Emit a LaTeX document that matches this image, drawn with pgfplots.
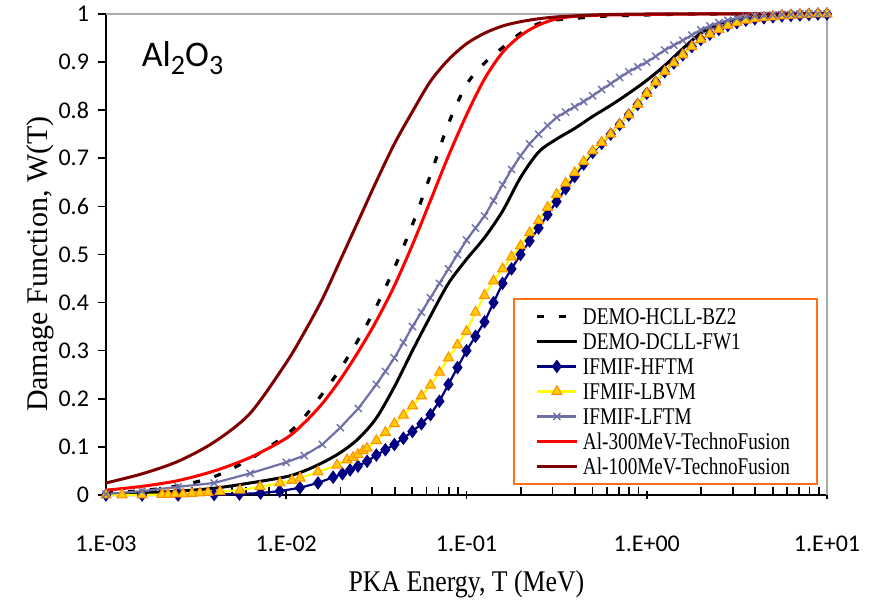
\documentclass[border=0pt]{standalone}
\usepackage{fontspec}
\setmainfont{Liberation Serif}
\newfontfamily\serifc{Liberation Serif}[FakeStretch=0.86]
\newfontfamily\serifl{Liberation Serif}[FakeStretch=0.8]
\newfontfamily\calib{Carlito}
\usepackage{pgfplots}
\pgfplotsset{compat=1.18}
\definecolor{navyc}{RGB}{0,0,128}
\definecolor{yell}{RGB}{255,255,0}
\definecolor{tri}{RGB}{255,204,0}
\definecolor{triedge}{RGB}{255,140,0}
\definecolor{lftm}{RGB}{112,112,168}
\definecolor{dred}{RGB}{128,0,0}
\definecolor{legor}{RGB}{255,112,25}
\definecolor{bord}{RGB}{170,170,170}

\begin{document}
\begin{tikzpicture}
\path[use as bounding box] (-53pt,-54pt) rectangle (382.5pt,247.5pt);
\begin{axis}[
  scale only axis, width=360.5pt, height=240.5pt,
  xmode=log, xmin=1e-3, xmax=10, ymin=0, ymax=1,
  axis x line*=bottom, axis y line*=left,
  axis line style={black, line width=1pt},
  xtick={1e-3,1e-2,1e-1,1,10},
  xticklabels={1.E-03,1.E-02,1.E-01,1.E+00,1.E+01},
  minor xtick={2e-3,3e-3,4e-3,5e-3,6e-3,7e-3,8e-3,9e-3,0.02,0.03,0.04,0.05,0.06,0.07,0.08,0.09,0.2,0.3,0.4,0.5,0.6,0.7,0.8,0.9,2,3,4,5,6,7,8,9},
  ytick={0,0.1,0.2,0.3,0.4,0.5,0.6,0.7,0.8,0.9,1},
  yticklabels={0,0.1,0.2,0.3,0.4,0.5,0.6,0.7,0.8,0.9,1},
  tick style={black, line width=0.8pt},
  xtick align=outside, ytick align=outside,
  major tick length=4pt, minor tick length=4pt,
  minor x tick style={yshift=4pt},
  major x tick style={yshift=2pt},
  ticklabel style={font=\calib\fontsize{12}{14}\selectfont},
  xticklabel style={yshift=-13pt},
  yticklabel style={xshift=-1pt},
  xlabel={PKA Energy, T (MeV)},
  ylabel={Damage Function, W(T)},
  xlabel style={font=\serifc\fontsize{15}{17}\selectfont, at={(axis description cs:0.5,-0.185)}, anchor=center},
  ylabel style={font=\fontsize{15}{17}\selectfont, at={(axis description cs:-0.0915,0.48)}, anchor=center},
  clip=false,
  legend style={at={(rel axis cs:0.9875,0.0208)}, anchor=south east, draw=legor, line width=1pt,
    font=\serifl\fontsize{12}{13}\selectfont, inner xsep=11pt, inner ysep=2.5pt,
    nodes={inner xsep=2.5pt, inner ysep=2pt, text height=8.5pt, text depth=0pt}, row sep=0pt},
  legend cell align=left,
  legend image code/.code={\draw[mark repeat=2,mark phase=2] plot coordinates {(0pt,0pt) (9.75pt,0pt) (19.5pt,0pt)};},
]
\draw[bord, line width=0.75pt] (rel axis cs:0,1) -- (rel axis cs:1,1) -- (rel axis cs:1,0);

% DEMO-HCLL-BZ2
\addplot[black, line width=1.6pt, dash pattern=on 3.5pt off 7.5pt, smooth] table {
0.001 0.004
0.001585 0.009
0.002512 0.019
0.003981 0.038
0.006310 0.075
0.01 0.125
0.01259 0.162
0.01585 0.21
0.01995 0.262
0.02512 0.323
0.03162 0.392
0.03981 0.472
0.05012 0.562
0.06310 0.665
0.07943 0.772
0.1 0.853
0.1259 0.898
0.1585 0.93
0.1995 0.96
0.2512 0.98
0.3162 0.988
0.3981 0.991
0.5012 0.994
0.6310 0.996
1 0.998
1.995 1.0
10 1.0
};
\addlegendentry{DEMO-HCLL-BZ2}

% DEMO-DCLL-FW1
\addplot[black, line width=1.5pt, smooth] table {
0.001 0.002
0.001585 0.004
0.002512 0.008
0.003981 0.014
0.006310 0.025
0.01 0.038
0.01259 0.05
0.01585 0.067
0.01995 0.088
0.02512 0.117
0.03162 0.16
0.03981 0.225
0.05012 0.30
0.06310 0.372
0.07943 0.44
0.1 0.49
0.1259 0.535
0.1585 0.59
0.1995 0.66
0.2512 0.713
0.3162 0.74
0.3981 0.762
0.5012 0.787
0.6310 0.81
0.7943 0.835
1 0.862
1.259 0.893
1.585 0.928
1.995 0.96
2.512 0.979
3.162 0.99
3.981 0.995
5.012 0.998
10 1.0
};
\addlegendentry{DEMO-DCLL-FW1}

% IFMIF-HFTM
\addplot[navyc, line width=1.1pt, mark=diamond*, mark size=2.5pt, mark options={fill=navyc, draw=navyc}] table {
0.001 0.0
0.001585 0.0
0.002512 0.0
0.003981 0.001
0.0055 0.002
0.0072 0.004
0.0092 0.008
0.0119 0.015
0.0150 0.025
0.0182 0.037
0.0205 0.044
0.0226 0.052
0.0250 0.060
0.0281 0.070
0.03162 0.083
0.03548 0.094
0.03981 0.105
0.04467 0.118
0.05012 0.132
0.05623 0.148
0.0631 0.167
0.07079 0.195
0.07943 0.23
0.08913 0.265
0.1 0.30
0.1122 0.33
0.1259 0.36
0.1413 0.40
0.1585 0.44
0.1778 0.47
0.1995 0.50
0.2239 0.528
0.2512 0.555
0.2818 0.583
0.3162 0.61
0.3548 0.637
0.3981 0.662
0.4467 0.688
0.5012 0.712
0.5623 0.731
0.631 0.75
0.7079 0.77
0.7943 0.79
0.8913 0.812
1 0.835
1.122 0.858
1.259 0.88
1.413 0.898
1.585 0.915
1.778 0.932
1.995 0.947
2.239 0.958
2.512 0.968
2.818 0.976
3.162 0.982
3.548 0.987
3.981 0.99
4.467 0.992
5.012 0.994
5.623 0.996
6.31 0.997
7.079 0.998
7.943 0.999
8.913 1.0
10 1.0
};
\addlegendentry{IFMIF-HFTM}

% IFMIF-LBVM
\addplot[yell, line width=1.1pt, mark=triangle*, mark size=2.9pt, mark options={fill=tri, draw=triedge, line width=0.5pt}] table {
0.001 0.0
0.001227 0.0
0.001585 0.0
0.002046 0.001
0.002208 0.001
0.002414 0.002
0.002675 0.002
0.0030 0.003
0.00332 0.004
0.00368 0.005
0.00429 0.007
0.00554 0.010
0.00715 0.017
0.00923 0.025
0.01076 0.030
0.01192 0.035
0.0150 0.048
0.01912 0.062
0.02173 0.073
0.02346 0.078
0.0250 0.084
0.02667 0.092
0.02805 0.097
0.03162 0.113
0.03548 0.13
0.03981 0.148
0.04467 0.166
0.05012 0.185
0.05623 0.206
0.0631 0.228
0.07079 0.255
0.07943 0.285
0.08913 0.312
0.1 0.34
0.1122 0.38
0.1259 0.415
0.1413 0.445
0.1585 0.47
0.1778 0.495
0.1995 0.518
0.2239 0.545
0.2512 0.57
0.2818 0.598
0.3162 0.625
0.3548 0.648
0.3981 0.67
0.4467 0.693
0.5012 0.715
0.5623 0.733
0.631 0.75
0.7079 0.77
0.7943 0.79
0.8913 0.812
1 0.835
1.122 0.858
1.259 0.88
1.413 0.898
1.585 0.915
1.778 0.932
1.995 0.947
2.239 0.958
2.512 0.968
2.818 0.976
3.162 0.982
3.548 0.987
3.981 0.99
4.467 0.992
5.012 0.994
5.623 0.996
6.31 0.997
7.079 0.998
7.943 0.999
8.913 1.0
10 1.0
};
\addlegendentry{IFMIF-LBVM}

% IFMIF-LFTM
\addplot[lftm, line width=1.1pt, mark=x, mark size=2.5pt, mark options={line width=0.7pt}] table {
0.001 0.002
0.001585 0.008
0.002512 0.017
0.003981 0.025
0.006310 0.045
0.01 0.068
0.01259 0.082
0.01585 0.105
0.01995 0.14
0.02512 0.18
0.03162 0.23
0.03548 0.257
0.03981 0.285
0.04467 0.317
0.05012 0.35
0.05623 0.38
0.0631 0.41
0.07079 0.44
0.07943 0.47
0.08913 0.50
0.1 0.53
0.1122 0.555
0.1259 0.58
0.1413 0.612
0.1585 0.645
0.1778 0.677
0.1995 0.705
0.2239 0.73
0.2512 0.75
0.2818 0.768
0.3162 0.785
0.3548 0.796
0.3981 0.807
0.4467 0.818
0.5012 0.83
0.5623 0.843
0.631 0.855
0.7079 0.868
0.7943 0.88
0.8913 0.89
1 0.90
1.122 0.912
1.259 0.925
1.413 0.935
1.585 0.945
1.778 0.956
1.995 0.967
2.239 0.975
2.512 0.982
2.818 0.987
3.162 0.991
3.548 0.994
3.981 0.996
4.467 0.997
5.012 0.998
5.623 0.999
6.31 0.999
7.079 1.0
7.943 1.0
8.913 1.0
10 1.0
};
\addlegendentry{IFMIF-LFTM}

% Al-300MeV
\addplot[red, line width=1.5pt, smooth] table {
0.001 0.01
0.001585 0.018
0.002512 0.03
0.003981 0.05
0.006310 0.078
0.01 0.118
0.01259 0.15
0.01585 0.19
0.01995 0.24
0.02512 0.298
0.03162 0.362
0.03981 0.435
0.05012 0.52
0.06310 0.612
0.07943 0.705
0.1 0.79
0.1259 0.865
0.1585 0.92
0.1995 0.955
0.2512 0.977
0.3162 0.99
0.3981 0.995
0.5012 0.997
0.6310 0.998
1 0.999
1.995 1.0
10 1.0
};
\addlegendentry{Al-300MeV-TechnoFusion}

% Al-100MeV
\addplot[dred, line width=1.5pt, smooth] table {
0.001 0.025
0.001585 0.044
0.002512 0.07
0.003981 0.11
0.006310 0.17
0.01 0.275
0.01259 0.338
0.01585 0.407
0.01995 0.488
0.02512 0.57
0.03162 0.652
0.03981 0.73
0.05012 0.797
0.06310 0.86
0.07943 0.905
0.1 0.938
0.1259 0.96
0.1585 0.975
0.1995 0.984
0.2512 0.99
0.3162 0.994
0.3981 0.996
0.5012 0.998
0.6310 0.999
1 1.0
1.995 1.0
10 1.0
};
\addlegendentry{Al-100MeV-TechnoFusion}

\node[font=\calib\fontsize{18}{20}\selectfont, anchor=base west] at (axis description cs:0.04,0.89) {Al\raisebox{-0.22em}{\fontsize{14}{16}\selectfont 2}O\raisebox{-0.22em}{\fontsize{14}{16}\selectfont 3}};
\end{axis}
\end{tikzpicture}
\end{document}
